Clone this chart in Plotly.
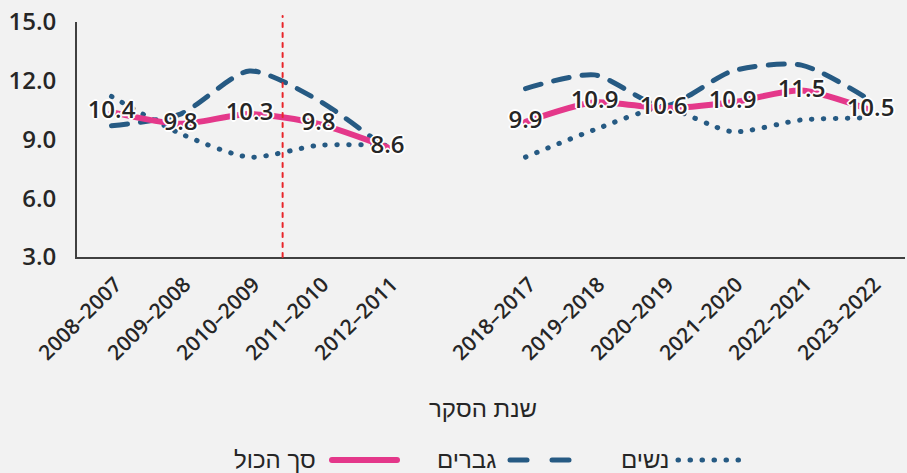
import plotly.graph_objects as go

categories = ["2008–2007", "2009–2008", "2010–2009", "2011–2010", "2012–2011", " ",
              "2018–2017", "2019–2018", "2020–2019", "2021–2020", "2022–2021", "2023–2022"]
total = [10.4, 9.8, 10.3, 9.8, 8.6, None, 9.9, 10.9, 10.6, 10.9, 11.5, 10.5]
men = [9.7, 10.3, 12.5, 11.0, 8.5, None, 11.6, 12.3, 10.7, 12.5, 12.8, 11.0]
women = [11.2, 9.3, 8.1, 8.7, 8.7, None, 8.1, 9.5, 10.6, 9.4, 10.0, 10.1]

name_total = "סך הכול"
name_men = "גברים"
name_women = "נשים"
x_title = "שנת הסקר"

PINK = "#e4388a"
BLUE = "#265a83"
TEXT = "#262626"
BG = "#f2f2f2"
FONT = "Open Sans, Liberation Sans, DejaVu Sans, sans-serif"
HFONT = "Liberation Sans, Open Sans, DejaVu Sans, sans-serif"

W, H = 907, 473
L, R, T, B = 77, 2, 22, 216
PW = W - L - R
PH = H - T - B

DOT = "0.5px,11.5px"
DASH = "16px,13px"


def px_x(p):
    return (p - L) / PW


def px_y(p):
    return (H - B - p) / PH


fig = go.Figure()
fig.add_trace(go.Scatter(
    x=categories, y=women, mode="lines", name=name_women,
    line=dict(color=BLUE, width=5, dash=DOT, shape="spline", smoothing=0.7),
    connectgaps=False, showlegend=False, hoverinfo="skip"))
fig.add_trace(go.Scatter(
    x=categories, y=men, mode="lines", name=name_men,
    line=dict(color=BLUE, width=5, dash=DASH, shape="spline", smoothing=0.7),
    connectgaps=False, showlegend=False, hoverinfo="skip"))
fig.add_trace(go.Scatter(
    x=categories, y=total, mode="lines+text", name=name_total,
    line=dict(color=PINK, width=6, shape="spline", smoothing=0.7),
    text=[f"{v:.1f}" if v is not None else "" for v in total],
    textposition="middle center",
    textfont=dict(family=FONT, size=24, color=TEXT, weight=600,
                  shadow="white 1px 1px 0px, white -1px -1px 0px, white 1px -1px 0px, white -1px 1px 0px, white 0px 2px 0px, white 0px -2px 0px, white 2px 0px 0px, white -2px 0px 0px"),
    connectgaps=False, showlegend=False, hoverinfo="skip"))

shapes = [
    dict(type="line", xref="x", yref="paper", x0=2.48, x1=2.48, y0=0, y1=px_y(16),
         line=dict(color="#e8262b", width=2, dash="4px,6px")),
    # legend symbols
    dict(type="line", xref="paper", yref="paper", x0=px_x(332), x1=px_x(397),
         y0=px_y(460), y1=px_y(460), line=dict(color=PINK, width=6)),
    dict(type="line", xref="paper", yref="paper", x0=px_x(510), x1=px_x(527),
         y0=px_y(460), y1=px_y(460), line=dict(color=BLUE, width=5)),
    dict(type="line", xref="paper", yref="paper", x0=px_x(552), x1=px_x(569),
         y0=px_y(460), y1=px_y(460), line=dict(color=BLUE, width=5)),
    dict(type="line", xref="paper", yref="paper", x0=px_x(678), x1=px_x(741),
         y0=px_y(460), y1=px_y(460), line=dict(color=BLUE, width=5, dash=DOT)),
]

hfont = dict(family=HFONT, size=24, color=TEXT)
annotations = [
    dict(text=x_title, xref="paper", yref="paper", x=px_x(483), y=px_y(408),
         xanchor="center", yanchor="middle", showarrow=False, font=hfont),
    dict(text=name_total, xref="paper", yref="paper", x=px_x(318), y=px_y(459),
         xanchor="right", yanchor="middle", showarrow=False, font=hfont),
    dict(text=name_men, xref="paper", yref="paper", x=px_x(498), y=px_y(459),
         xanchor="right", yanchor="middle", showarrow=False, font=hfont),
    dict(text=name_women, xref="paper", yref="paper", x=px_x(671), y=px_y(459),
         xanchor="right", yanchor="middle", showarrow=False, font=hfont),
]

fig.update_layout(
    width=W, height=H,
    margin=dict(l=L, r=R, t=T, b=B, pad=0),
    paper_bgcolor=BG, plot_bgcolor=BG,
    font=dict(family=FONT, size=22, color=TEXT),
    showlegend=False,
    shapes=shapes, annotations=annotations,
    xaxis=dict(type="category", categoryorder="array", categoryarray=categories,
               range=[-0.5, len(categories) - 0.5], automargin=False,
               showline=True, linecolor="#404040", linewidth=2,
               showgrid=False, zeroline=False, ticks="", tickangle=-45,
               ticklabelstandoff=5, ticklabelshift=4,
               tickfont=dict(family=FONT, size=21, color=TEXT, weight=600)),
    yaxis=dict(range=[3, 15], tickvals=[3, 6, 9, 12, 15], tickformat=".1f",
               automargin=False,
               showline=True, linecolor="#404040", linewidth=2,
               showgrid=False, zeroline=False, ticks="", ticklabelstandoff=14,
               tickfont=dict(family=FONT, size=24, color=TEXT, weight=600)),
)

post = (
    "document.body.style.margin='0px';"
    "document.body.style.background='#f2f2f2';"
    "var s=document.createElement('style');"
    "s.textContent='path.js-line, .shapelayer path{stroke-linecap:round;}';"
    "document.head.appendChild(s);"
)

fig.write_html("out.html", config={"displayModeBar": False}, post_script=post)
